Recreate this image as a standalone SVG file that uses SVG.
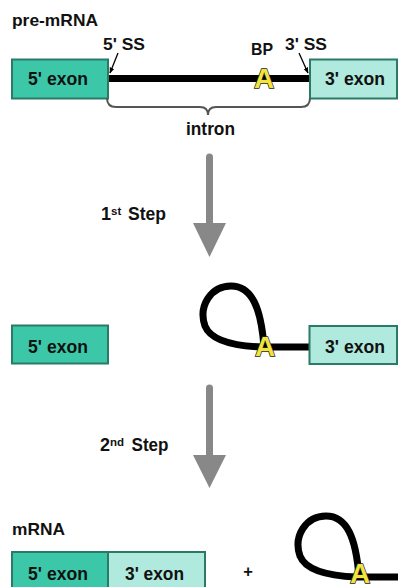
<svg xmlns="http://www.w3.org/2000/svg" width="398" height="587" viewBox="0 0 398 587">
<style>
text{font-family:"Liberation Sans",Arial,Helvetica,sans-serif;font-weight:bold;fill:#111}
.ex5{fill:#3cc8a8;stroke:#2b7a66;stroke-width:2}
.ex3{fill:#b0e9dd;stroke:#2b7a66;stroke-width:2}
.rna{fill:none;stroke:#000;stroke-width:7}
.bp{fill:#f2e43a;stroke:#222;stroke-width:1.4;font-size:28px;paint-order:stroke}
.lbl{font-size:16.5px}
.big{font-size:18px}
.sup{font-size:11.5px}
.ext{font-size:19px}
.step{fill:#888;stroke:none}
.shaft{stroke:#888;stroke-width:7;stroke-linecap:round}
.ptr{stroke:#000;stroke-width:1.3}
</style>
<defs>
<marker id="ah" viewBox="0 0 10 10" refX="9" refY="5" markerWidth="6" markerHeight="6" orient="auto" markerUnits="userSpaceOnUse">
<path d="M0,1 L10,5 L0,9 z" fill="#000"/>
</marker>
</defs>

<g id="pre-mrna">
<text x="12" y="26" class="lbl" textLength="86" lengthAdjust="spacingAndGlyphs">pre-mRNA</text>
<line x1="108" y1="78.5" x2="311" y2="78.5" class="rna"/>
<g id="top-5exon">
<rect x="12" y="59.5" width="96" height="39" class="ex5"/>
<text x="28" y="85" class="ext" textLength="60" lengthAdjust="spacingAndGlyphs">5' exon</text>
</g>
<g id="top-3exon">
<rect x="310" y="59.5" width="87" height="39" class="ex3"/>
<text x="325" y="85" class="ext" textLength="60" lengthAdjust="spacingAndGlyphs">3' exon</text>
</g>
<text x="103" y="50" class="lbl" textLength="42" lengthAdjust="spacingAndGlyphs">5' SS</text>
<text x="251" y="55" class="lbl" textLength="22" lengthAdjust="spacingAndGlyphs">BP</text>
<text x="285" y="50" class="lbl" textLength="42" lengthAdjust="spacingAndGlyphs">3' SS</text>
<text x="264" y="88" class="bp" text-anchor="middle">A</text>
<path d="M107 98 Q107 107 116 107 L200 107 Q208 107 208 115 Q208 107 216 107 L301 107 Q310 107 310 98" fill="none" stroke="#555" stroke-width="2"/>
<text x="210.5" y="135" class="big" text-anchor="middle" textLength="49" lengthAdjust="spacingAndGlyphs">intron</text>
</g>

<g id="intermediate">
<g id="mid-5exon">
<rect x="12" y="325.5" width="96" height="38" class="ex5"/>
<text x="28" y="352.5" class="ext" textLength="60" lengthAdjust="spacingAndGlyphs">5' exon</text>
</g>
<path d="M311 347 L262 347 C234 346 211 341 205 326 C198 306 211 286 231 286 C252 286 261 308 264 347" class="rna"/>
<g id="mid-3exon">
<rect x="309.5" y="326" width="87.5" height="38" class="ex3"/>
<text x="325" y="352.5" class="ext" textLength="60" lengthAdjust="spacingAndGlyphs">3' exon</text>
</g>
<text x="265" y="356" class="bp" text-anchor="middle">A</text>
</g>

<g id="products">
<text x="12" y="535" class="lbl" textLength="53" lengthAdjust="spacingAndGlyphs">mRNA</text>
<g id="bot-5exon">
<rect x="12" y="552" width="96" height="40" class="ex5"/>
<text x="28" y="580" class="ext" textLength="60" lengthAdjust="spacingAndGlyphs">5' exon</text>
</g>
<g id="bot-3exon">
<rect x="108" y="552" width="97" height="40" class="ex3"/>
<text x="125" y="580" class="ext" textLength="59" lengthAdjust="spacingAndGlyphs">3' exon</text>
</g>
<text x="248" y="577" class="lbl" text-anchor="middle">+</text>
<g id="lariat" transform="translate(95,230)">
<path d="M310 347 L262 347 C234 346 211 341 205 326 C198 306 211 286 231 286 C252 286 261 308 264 347" class="rna"/>
<text x="265" y="353" class="bp" text-anchor="middle">A</text>
</g>
</g>

<g id="connectors">
<line x1="118" y1="53" x2="110" y2="73" class="ptr" marker-end="url(#ah)"/>
<line x1="299" y1="53" x2="308" y2="73" class="ptr" marker-end="url(#ah)"/>
<line x1="209.5" y1="157" x2="209.5" y2="226" class="shaft"/>
<polygon points="193,223 226,223 209.5,257" class="step"/>
<line x1="209.5" y1="388" x2="209.5" y2="457" class="shaft"/>
<polygon points="193,455 226,455 209.5,488" class="step"/>
</g>

<g id="step1">
<text y="220" class="big"><tspan x="101">1</tspan><tspan x="111" y="215" class="sup">st</tspan><tspan x="128" y="220" textLength="38" lengthAdjust="spacingAndGlyphs">Step</tspan></text>
</g>
<g id="step2">
<text y="451" class="big"><tspan x="100">2</tspan><tspan x="110" y="446" class="sup">nd</tspan><tspan x="131.5" y="451" textLength="37" lengthAdjust="spacingAndGlyphs">Step</tspan></text>
</g>
</svg>
